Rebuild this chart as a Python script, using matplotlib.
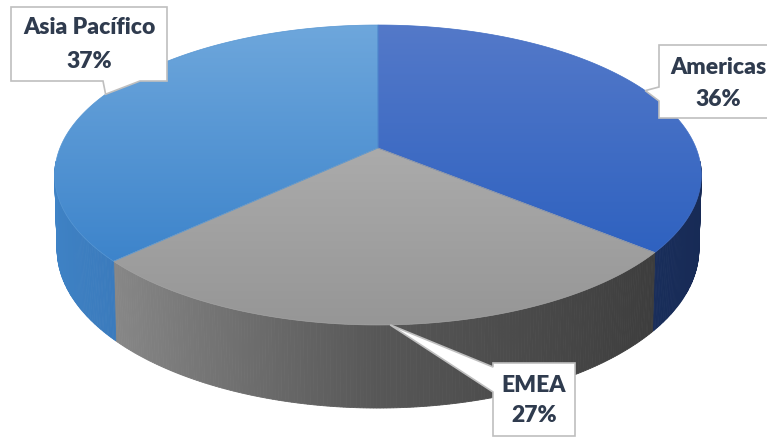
import numpy as np
import matplotlib
matplotlib.use("Agg")
import matplotlib.pyplot as plt
from matplotlib.patches import Polygon
from matplotlib.colors import to_rgb

# ---- data ----
categories = ["Americas", "EMEA", "Asia Pacífico"]
values = [36, 27, 37]
pct_labels = ["36%", "27%", "37%"]

# ---- style ----
top_colors = [("#5479c9", "#2f62c0"),   # (colour at top y, colour at bottom y)
              ("#ababab", "#969696"),
              ("#6ea7dc", "#3d84cb")]
wall_stops = [[(0.0, "#1e386b"), (1.0, "#172a55")],
              [(-0.8, "#8c8c8c"), (0.0, "#575757"), (0.8, "#3c3c3c")],
              [(-1.0, "#3f83c6"), (-0.6, "#3977b8")]]

W, H = 767, 437
CX, CY = 378.0, 148.0
SINP = 0.4563
COSP = np.sqrt(1 - SINP ** 2)
D = 4.943
F = 1572.0
DEPTH = 0.263


def proj(theta_deg, r=1.0, z=0.0):
    th = np.radians(theta_deg)
    u = r * np.sin(th)
    v = r * np.cos(th)
    dep = D + v * COSP - z * SINP
    depx = D + v * COSP - 0.3 * z * SINP
    x = CX + F * u / depx
    y = CY - F * (v * SINP + z * COSP) / dep
    return x, y


def interp_color(stops, s):
    ss = [p[0] for p in stops]
    cs = np.array([to_rgb(p[1]) for p in stops])
    return tuple(np.interp(s, ss, cs[:, k]) for k in range(3))


fig = plt.figure(figsize=(W / 100, H / 100), dpi=100)
ax = fig.add_axes([0, 0, 1, 1])
ax.set_xlim(0, W)
ax.set_ylim(H, 0)
ax.axis("off")

total = float(sum(values))
starts = np.cumsum([0] + values[:-1]) / total * 360.0
ends = np.cumsum(values) / total * 360.0

# ---- side walls (front-facing part only) ----
lim = np.degrees(np.arccos(-1.0 / (D * COSP))) - 8
for i in range(len(values)):
    a0, a1 = max(starts[i], lim), min(ends[i], 360 - lim)
    if a1 <= a0:
        continue
    n = int(np.ceil(a1 - a0)) * 2
    ts = np.linspace(a0, a1, n + 1)
    for t1, t2 in zip(ts[:-1], ts[1:]):
        x1, y1 = proj(t1)
        x2, y2 = proj(t2)
        x3, y3 = proj(t2, z=-DEPTH)
        x4, y4 = proj(t1, z=-DEPTH)
        s = np.sin(np.radians((t1 + t2) / 2))
        c = interp_color(wall_stops[i], s)
        ax.add_patch(Polygon([(x1, y1), (x2, y2), (x3, y3), (x4, y4)],
                             closed=True, facecolor=c, edgecolor=c,
                             linewidth=0.6, zorder=1))

# ---- top faces with vertical gradient ----
for i in range(len(values)):
    ts = np.linspace(starts[i], ends[i], 200)
    pts = [proj(t) for t in ts]
    pts = [(CX, CY)] + pts
    ys = [p[1] for p in pts]
    ytop, ybot = min(ys), max(ys)
    c0, c1 = np.array(to_rgb(top_colors[i][0])), np.array(to_rgb(top_colors[i][1]))
    g = np.linspace(0, 1, 256)[:, None]
    img = (c0[None, :] * (1 - g) + c1[None, :] * g)[:, None, :]
    poly = Polygon(pts, closed=True, facecolor="none", edgecolor="none")
    ax.add_patch(poly)
    im = ax.imshow(img, extent=(0, W, ybot, ytop), aspect="auto",
                   interpolation="bilinear", zorder=2)
    im.set_clip_path(poly)
    edge = Polygon(pts, closed=True, facecolor="none",
                   edgecolor=tuple(0.5 * (c0 + c1)), linewidth=0.5, zorder=2.1)
    ax.add_patch(edge)

# ---- callouts ----
mids = (starts + ends) / 2
tips = [proj(m) for m in mids]
txt_color = "#2f3b4e"
border = "#bfbfbf"

# Americas (box extends past right edge)
tx, ty = tips[0]
ax.add_patch(Polygon([(659, 45), (790, 45), (790, 118), (659, 118), (659, 101),
                      (tx, ty), (659, 87)], closed=True, facecolor="white",
                     edgecolor=border, linewidth=1.2, zorder=5, joinstyle="miter"))
# EMEA
tx, ty = tips[1]
ax.add_patch(Polygon([(493, 363), (575, 363), (575, 436), (493, 436), (493, 392),
                      (tx, ty), (493, 367)], closed=True, facecolor="white",
                     edgecolor=border, linewidth=1.2, zorder=5, joinstyle="miter"))
# Asia Pacific
tx, ty = tips[2]
ax.add_patch(Polygon([(11, 7), (167, 7), (167, 81), (140, 81), (tx, ty),
                      (103, 81), (11, 81)], closed=True, facecolor="white",
                     edgecolor=border, linewidth=1.2, zorder=5, joinstyle="miter"))

label_pos = [(718, 67, 100), (534, 385, 416), (89, 28, 61)]
font = dict(family=["Lato", "DejaVu Sans"], fontsize=16.5, fontweight="heavy",
            color=txt_color, ha="center", va="center", zorder=6)
for i in range(len(categories)):
    x, y1, y2 = label_pos[i]
    ax.text(x, y1, categories[i], **font)
    ax.text(x, y2, pct_labels[i], **font)

fig.savefig("out.png", dpi=100)
